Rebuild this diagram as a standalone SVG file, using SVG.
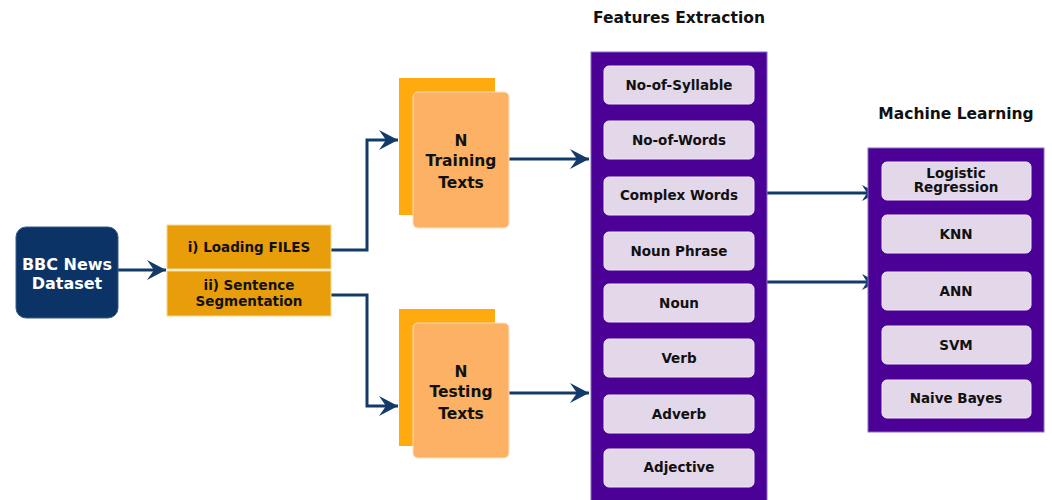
<svg xmlns="http://www.w3.org/2000/svg" width="1052" height="500" viewBox="0 0 1052 500">
<defs>
<marker id="ah" markerWidth="20" markerHeight="20" refX="19" refY="10" orient="auto" markerUnits="userSpaceOnUse" viewBox="0 0 20 20">
<path d="M0,0 L19,10 L0,20 L7,10 Z" fill="#123b6a"/>
</marker>
<marker id="ahs" markerWidth="16" markerHeight="16" refX="15" refY="8" orient="auto" markerUnits="userSpaceOnUse" viewBox="0 0 16 16">
<path d="M0,0 L15,8 L0,16 L5,8 Z" fill="#123b6a"/>
</marker>
<style>
text{font-family:"DejaVu Sans",Verdana,sans-serif;font-weight:bold;text-anchor:middle}
.lbl{font-size:13.5px;fill:#111}
.ttl{font-size:15.5px;fill:#111}
.feat{fill:#e3d7ea;stroke:#f0e8f4;stroke-width:1}
.col{fill:#4b0096;stroke:#8a6cc0;stroke-width:1}
.con{fill:none;stroke:#123b6a;stroke-width:3}
.back{fill:#ffaa0f}
.front{fill:#fdb164;stroke:#fde0c0;stroke-width:1}
.step{fill:#e89e0b;stroke:#f6d890;stroke-width:1}
</style>
</defs>
<rect width="1052" height="500" fill="#fff"/>

<g id="connectors">
<path class="con" d="M118,270 H166" marker-end="url(#ah)"/>
<path class="con" d="M331,250 H367 V140 H398" marker-end="url(#ah)"/>
<path class="con" d="M331,295 H367 V406 H398" marker-end="url(#ah)"/>
<path class="con" d="M509,159 H589" marker-end="url(#ah)"/>
<path class="con" d="M509,393 H589" marker-end="url(#ah)"/>
<path class="con" d="M767,193 H877" marker-end="url(#ahs)" stroke-width="2"/>
<path class="con" d="M767,282 H877" marker-end="url(#ahs)" stroke-width="2"/>
</g>

<g id="bbc">
<rect x="16" y="227" width="102" height="91" rx="10" fill="#0c3366" stroke="#3a5a8a" stroke-width="1"/>
<text x="67" y="270" style="font-size:16px;fill:#fff">BBC News</text>
<text x="67" y="289" style="font-size:16px;fill:#fff">Dataset</text>
</g>

<g id="loading">
<rect class="step" x="167" y="225" width="164" height="44"/>
<text class="lbl" x="249" y="252">i) Loading FILES</text>
</g>
<g id="segmentation">
<rect class="step" x="167" y="271" width="164" height="45"/>
<text class="lbl" x="249" y="290">ii) Sentence</text>
<text class="lbl" x="249" y="306">Segmentation</text>
</g>

<g id="training">
<rect class="back" x="399" y="78" width="96" height="137"/>
<rect class="front" x="413" y="92" width="96" height="136" rx="5"/>
<text class="ttl" x="461" y="146">N</text>
<text class="ttl" x="461" y="166">Training</text>
<text class="ttl" x="461" y="188">Texts</text>
</g>

<g id="testing">
<rect class="back" x="399" y="309" width="96" height="137"/>
<rect class="front" x="413" y="323" width="96" height="135" rx="5"/>
<text class="ttl" x="461" y="377">N</text>
<text class="ttl" x="461" y="397">Testing</text>
<text class="ttl" x="461" y="419">Texts</text>
</g>

<g id="features">
<text class="ttl" x="679" y="23">Features Extraction</text>
<rect class="col" x="591" y="52" width="176" height="450"/>
<rect class="feat" x="604" y="66" width="150" height="38" rx="5"/>
<text class="lbl" x="679" y="90">No-of-Syllable</text>
<rect class="feat" x="604" y="121" width="150" height="38" rx="5"/>
<text class="lbl" x="679" y="145">No-of-Words</text>
<rect class="feat" x="604" y="177" width="150" height="38" rx="5"/>
<text class="lbl" x="679" y="200">Complex Words</text>
<rect class="feat" x="604" y="232" width="150" height="38" rx="5"/>
<text class="lbl" x="679" y="256">Noun Phrase</text>
<rect class="feat" x="604" y="284" width="150" height="38" rx="5"/>
<text class="lbl" x="679" y="308">Noun</text>
<rect class="feat" x="604" y="339" width="150" height="38" rx="5"/>
<text class="lbl" x="679" y="363">Verb</text>
<rect class="feat" x="604" y="395" width="150" height="38" rx="5"/>
<text class="lbl" x="679" y="419">Adverb</text>
<rect class="feat" x="604" y="449" width="150" height="38" rx="5"/>
<text class="lbl" x="679" y="472">Adjective</text>
</g>

<g id="ml">
<text class="ttl" x="956" y="119">Machine Learning</text>
<rect class="col" x="868" y="148" width="176" height="284"/>
<rect class="feat" x="882" y="162" width="149" height="38" rx="5"/>
<text class="lbl" x="956" y="178">Logistic</text>
<text class="lbl" x="956" y="192">Regression</text>
<rect class="feat" x="882" y="215" width="149" height="38" rx="5"/>
<text class="lbl" x="956" y="239">KNN</text>
<rect class="feat" x="882" y="272" width="149" height="38" rx="5"/>
<text class="lbl" x="956" y="296">ANN</text>
<rect class="feat" x="882" y="326" width="149" height="38" rx="5"/>
<text class="lbl" x="956" y="350">SVM</text>
<rect class="feat" x="882" y="380" width="149" height="38" rx="5"/>
<text class="lbl" x="956" y="403">Naive Bayes</text>
</g>
</svg>
